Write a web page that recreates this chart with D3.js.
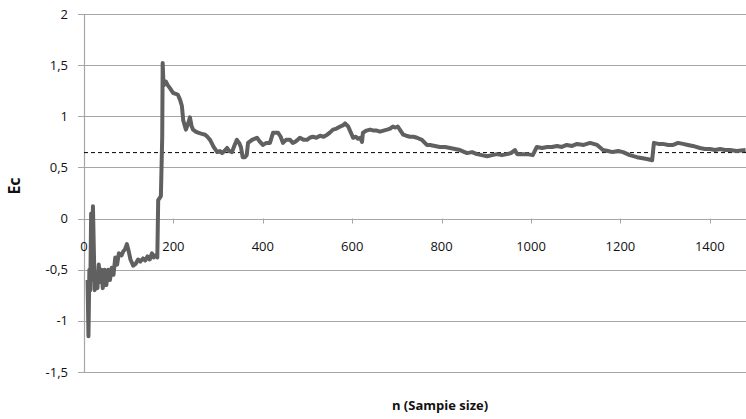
<!DOCTYPE html>
<html>
<head>
<meta charset="utf-8">
<script src="https://cdn.jsdelivr.net/npm/d3@7"></script>
<style>
  body { margin: 0; background: #fff; }
  svg text { font-family: "Open Sans", "Noto Sans", sans-serif; fill: #111; }
</style>
</head>
<body>
<svg id="chart"></svg>
<script>
// Chart size
const width = 746;
const height = 419;

// Sample size values (n) and running estimate Ec
const nValues = [8, 10, 12, 14, 16, 18, 20, 22, 24, 27, 30, 33, 36, 39, 42, 46, 50, 54, 58, 62,
  66, 70, 74, 78, 84, 88, 92, 96, 100, 104, 110, 116, 121, 126, 132, 137, 142, 147, 152, 156,
  160, 164, 166, 172, 175, 176, 178, 183, 188, 193, 199, 205, 210, 215, 219, 222, 228, 233, 237, 241,
  244, 250, 255, 262, 271, 276, 282, 290, 298, 304, 309, 314, 320, 325, 331, 337, 342, 347, 351, 355,
  360, 364, 367, 376, 387, 392, 400, 408, 416, 423, 434, 440, 445, 452, 461, 467, 472, 478, 483, 491,
  499, 505, 512, 520, 528, 536, 544, 550, 557, 565, 573, 579, 584, 591, 596, 602, 608, 613, 618, 622,
  624, 632, 640, 648, 655, 662, 670, 678, 685, 691, 697, 702, 708, 714, 721, 729, 737, 745, 756, 767,
  774, 785, 796, 808, 819, 830, 841, 857, 868, 879, 890, 902, 913, 924, 935, 946, 955, 964, 969, 980,
  991, 1004, 1013, 1025, 1036, 1047, 1058, 1069, 1080, 1092, 1103, 1118, 1132, 1148, 1161, 1172, 1183, 1195, 1206, 1221,
  1237, 1250, 1262, 1271, 1275, 1285, 1295, 1307, 1318, 1329, 1340, 1351, 1362, 1378, 1389, 1400, 1412, 1423, 1434, 1445,
  1460, 1480];
const ecValues = [-0.6, -1.15, -0.5, -0.7, 0.05, -0.6, 0.12, -0.3, -0.7, -0.55, -0.68, -0.45, -0.62, -0.5, -0.68, -0.5, -0.65, -0.5, -0.6, -0.48,
  -0.55, -0.38, -0.45, -0.34, -0.36, -0.32, -0.3, -0.25, -0.32, -0.4, -0.46, -0.44, -0.4, -0.42, -0.39, -0.41, -0.37, -0.4, -0.34, -0.38,
  -0.36, -0.38, 0.18, 0.22, 0.8, 1.52, 1.3, 1.34, 1.3, 1.27, 1.23, 1.22, 1.21, 1.16, 1.1, 0.96, 0.87, 0.93, 0.99, 0.9,
  0.87, 0.85, 0.84, 0.83, 0.82, 0.8, 0.77, 0.7, 0.65, 0.66, 0.64, 0.66, 0.69, 0.66, 0.65, 0.72, 0.77, 0.74, 0.7, 0.6,
  0.6, 0.62, 0.74, 0.77, 0.79, 0.76, 0.72, 0.74, 0.74, 0.84, 0.84, 0.8, 0.74, 0.77, 0.77, 0.74, 0.75, 0.77, 0.79, 0.77,
  0.77, 0.79, 0.8, 0.79, 0.81, 0.8, 0.82, 0.84, 0.87, 0.88, 0.9, 0.91, 0.93, 0.9, 0.85, 0.79, 0.8, 0.78, 0.79, 0.75,
  0.84, 0.86, 0.87, 0.86, 0.86, 0.85, 0.86, 0.87, 0.88, 0.9, 0.89, 0.9, 0.86, 0.82, 0.81, 0.8, 0.8, 0.79, 0.77, 0.72,
  0.72, 0.71, 0.7, 0.7, 0.69, 0.68, 0.67, 0.64, 0.65, 0.63, 0.62, 0.61, 0.62, 0.63, 0.62, 0.63, 0.64, 0.67, 0.63, 0.63,
  0.63, 0.62, 0.7, 0.69, 0.7, 0.7, 0.71, 0.7, 0.72, 0.71, 0.73, 0.72, 0.74, 0.72, 0.67, 0.66, 0.65, 0.66, 0.65, 0.62,
  0.6, 0.59, 0.58, 0.57, 0.74, 0.73, 0.73, 0.72, 0.72, 0.74, 0.73, 0.72, 0.71, 0.69, 0.68, 0.68, 0.67, 0.68, 0.67, 0.67,
  0.66, 0.67];

// Reference level (dashed)
const refLevel = 0.645;

// Axis ticks
const xTicks = [0, 200, 400, 600, 800, 1000, 1200, 1400];
const yTicks = [-1.5, -1, -0.5, 0, 0.5, 1, 1.5, 2];

const svg = d3.select("#chart")
    .attr("width", width)
    .attr("height", height);

// Scales
const x = d3.scaleLinear().domain([0, 1500]).range([84, 754.5]);
const y = d3.scaleLinear().domain([-1.5, 2]).range([372, 14]);

// Horizontal gridlines
svg.append("g")
    .selectAll("line")
    .data(yTicks)
    .join("line")
    .attr("x1", 78)
    .attr("x2", width)
    .attr("y1", d => Math.round(y(d)) + 0.5)
    .attr("y2", d => Math.round(y(d)) + 0.5)
    .attr("stroke", "#a6a6a6")
    .attr("stroke-width", 1.2);

// Vertical axis line
svg.append("line")
    .attr("x1", 84.5).attr("x2", 84.5)
    .attr("y1", y(2)).attr("y2", y(-1.5))
    .attr("stroke", "#a6a6a6")
    .attr("stroke-width", 1.2);

// Y tick labels (comma decimals)
svg.append("g")
    .selectAll("text")
    .data(yTicks)
    .join("text")
    .attr("x", 68)
    .attr("y", d => y(d))
    .attr("dy", "0.35em")
    .attr("text-anchor", "end")
    .style("font-size", "13px")
    .text(d => String(d).replace(".", ","));

// X axis at y=0: tick marks pointing down and labels
svg.append("g")
    .selectAll("line")
    .data(xTicks.slice(1))
    .join("line")
    .attr("x1", d => Math.round(x(d)) + 0.5)
    .attr("x2", d => Math.round(x(d)) + 0.5)
    .attr("y1", y(0))
    .attr("y2", y(0) + 5)
    .attr("stroke", "#a6a6a6");

svg.append("g")
    .selectAll("text")
    .data(xTicks)
    .join("text")
    .attr("x", d => x(d))
    .attr("y", y(0) + 32)
    .attr("text-anchor", "middle")
    .style("font-size", "13px")
    .text(d => d);

// Dashed reference line
svg.append("line")
    .attr("x1", x(0)).attr("x2", width)
    .attr("y1", y(refLevel)).attr("y2", y(refLevel))
    .attr("stroke", "#000")
    .attr("stroke-width", 1)
    .attr("stroke-dasharray", "4,3");

// Data line
const data = nValues.map((n, i) => ({ n: n, v: ecValues[i] }));
const line = d3.line()
    .x(d => x(d.n))
    .y(d => y(d.v));

svg.append("path")
    .datum(data)
    .attr("d", line)
    .attr("fill", "none")
    .attr("stroke", "#606060")
    .attr("stroke-width", 4)
    .attr("stroke-linejoin", "round");

// Axis titles
svg.append("text")
    .attr("transform", "translate(20,186) rotate(-90)")
    .attr("text-anchor", "middle")
    .style("font-size", "16px")
    .style("font-weight", "bold")
    .text("Ec");

svg.append("text")
    .attr("x", 440)
    .attr("y", 410)
    .attr("text-anchor", "middle")
    .style("font-size", "13px")
    .style("font-weight", "bold")
    .text("n (Sampie size)");
</script>
</body>
</html>
